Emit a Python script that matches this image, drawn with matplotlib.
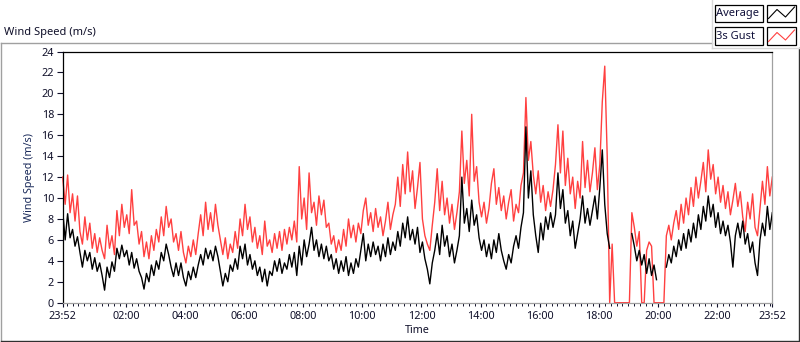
import numpy as np
import matplotlib
matplotlib.use("Agg")
import matplotlib.pyplot as plt
from matplotlib.lines import Line2D
from matplotlib.patches import Rectangle

nan = np.nan
sample_minutes = 5

average = [
    8.8, 6.0, 8.5, 6.2, 7.0, 5.4, 6.3, 4.8, 3.4, 5.0,
    4.0, 4.8, 3.2, 4.3, 3.0, 3.8, 2.6, 1.2, 3.4, 2.4,
    3.9, 3.0, 5.2, 4.2, 5.5, 4.4, 5.0, 3.6, 4.8, 3.3,
    4.2, 3.0, 2.4, 1.3, 2.8, 2.0, 3.6, 2.6, 4.0, 3.2,
    4.8, 4.0, 5.6, 4.6, 3.4, 2.5, 3.8, 2.6, 3.8, 2.4,
    1.6, 3.0, 2.2, 3.4, 2.4, 3.6, 4.6, 3.6, 5.2, 4.2,
    5.0, 4.0, 5.4, 4.4, 3.0, 1.6, 2.8, 2.0, 3.6, 3.0,
    4.2, 3.2, 5.4, 4.2, 5.6, 3.6, 4.6, 3.2, 4.0, 2.6,
    3.4, 2.0, 3.2, 1.6, 3.0, 2.6, 4.0, 3.0, 4.2, 2.8,
    3.8, 3.2, 4.6, 3.4, 4.8, 2.6, 5.4, 3.6, 6.0, 4.4,
    5.6, 7.2, 5.0, 6.0, 4.4, 5.6, 4.2, 5.4, 4.0, 4.6,
    3.2, 4.2, 2.8, 4.0, 3.0, 4.4, 2.6, 3.8, 2.8, 4.2,
    3.4, 5.0, 6.6, 4.0, 5.6, 4.4, 5.8, 4.6, 5.4, 4.0,
    5.6, 4.4, 6.2, 4.6, 5.8, 5.0, 6.8, 5.4, 7.6, 6.2,
    8.2, 6.0, 7.0, 5.6, 7.2, 4.8, 5.8, 4.2, 3.2, 1.8,
    3.8, 5.0, 6.6, 4.6, 7.4, 5.4, 6.4, 4.4, 5.6, 3.8,
    5.0, 6.4, 12.0, 7.6, 9.0, 6.8, 9.8, 7.4, 8.4, 6.2,
    5.0, 6.0, 4.4, 5.6, 4.2, 6.0, 4.8, 6.6, 5.0, 4.0,
    3.2, 4.6, 3.8, 5.4, 6.4, 5.2, 7.2, 8.6, 16.8, 10.0,
    12.6, 8.4, 6.4, 4.8, 7.6, 6.0, 8.2, 7.0, 8.6, 7.2,
    8.4, 12.4, 9.0, 10.8, 7.6, 8.8, 6.4, 7.8, 5.2, 6.6,
    8.0, 10.2, 7.6, 9.0, 7.4, 8.8, 10.2, 8.0, 11.0, 14.6,
    9.4, 6.6, 5.2, nan, nan, nan, nan, nan, nan, nan,
    nan, 6.6, 5.4, 4.0, 5.0, 3.6, 4.6, 2.8, 4.2, 2.6,
    3.6, 2.2, nan, nan, nan, 3.4, 4.6, 3.8, 5.4, 4.4,
    6.0, 5.0, 6.6, 5.2, 7.0, 5.8, 7.6, 6.2, 8.4, 7.0,
    9.2, 7.8, 10.2, 8.2, 9.4, 7.2, 8.6, 6.6, 7.8, 6.4,
    7.4, 5.8, 3.4, 6.4, 7.6, 6.2, 7.8, 5.6, 6.6, 4.8,
    5.8, 3.8, 2.6, 6.0, 7.6, 6.4, 9.2, 7.0, 8.6,
]

gust = [
    12.0, 9.4, 12.2, 8.6, 10.4, 7.8, 10.2, 6.8, 5.6, 8.2,
    6.0, 7.6, 5.2, 6.6, 4.8, 6.2, 5.0, 4.2, 7.4, 5.2,
    6.4, 4.6, 8.8, 6.4, 9.4, 7.2, 8.4, 6.6, 10.8, 7.4,
    7.8, 5.6, 6.8, 4.4, 5.8, 4.2, 6.4, 5.0, 7.0, 5.8,
    8.2, 6.4, 9.2, 7.2, 8.0, 5.8, 6.6, 5.0, 6.8, 4.8,
    3.8, 5.4, 4.4, 6.0, 4.6, 6.6, 8.4, 6.4, 9.6, 7.0,
    8.6, 6.8, 9.4, 7.4, 6.0, 4.6, 6.2, 4.2, 5.6, 4.8,
    6.8, 5.2, 8.0, 6.4, 9.4, 7.0, 8.2, 5.8, 7.2, 5.2,
    6.4, 4.6, 7.8, 5.4, 6.0, 4.8, 6.6, 5.2, 6.8, 5.0,
    7.0, 5.6, 7.2, 6.0, 7.8, 5.8, 13.0, 8.0, 10.0, 7.0,
    12.4, 8.6, 9.6, 7.4, 10.2, 8.4, 9.8, 7.2, 7.6, 5.6,
    6.4, 4.8, 6.0, 5.0, 7.0, 5.4, 8.0, 6.2, 7.4, 5.8,
    7.6, 6.6, 8.8, 10.0, 7.4, 8.6, 6.8, 9.0, 7.2, 8.2,
    6.4, 7.8, 9.6, 7.0, 8.4, 9.4, 12.0, 9.2, 13.2, 10.4,
    14.4, 10.6, 12.6, 9.0, 11.0, 13.4, 8.0, 6.4, 5.6, 5.0,
    7.4, 9.6, 12.8, 8.8, 11.6, 8.4, 10.0, 7.6, 9.4, 7.0,
    8.6, 10.6, 16.4, 11.4, 13.6, 10.2, 18.0, 11.6, 13.0, 9.6,
    8.2, 9.6, 7.6, 9.0, 11.4, 12.8, 9.4, 11.0, 8.8, 10.2,
    8.0, 9.6, 10.8, 7.8, 9.4, 8.6, 11.2, 12.4, 19.6, 13.6,
    15.4, 12.2, 10.4, 12.6, 9.6, 11.2, 8.8, 10.6, 9.2, 10.8,
    13.2, 17.0, 12.4, 16.4, 11.2, 13.8, 10.4, 12.0, 9.0, 11.6,
    10.0, 15.4, 11.0, 13.6, 10.6, 12.4, 14.8, 10.8, 13.2, 19.2,
    22.6, 14.0, 0.0, 5.6, 0.0, 0.0, 0.0, 0.0, 0.0, 0.0,
    0.0, 8.6, 7.2, 5.4, 6.8, 0.0, 0.0, 5.0, 5.8, 5.4,
    0.0, 0.0, 0.0, 0.0, 0.0, 6.4, 7.4, 6.0, 7.6, 8.8,
    7.0, 9.4, 7.6, 10.0, 8.4, 11.0, 9.2, 12.0, 10.0, 11.6,
    13.4, 10.6, 14.6, 11.8, 13.2, 10.4, 12.0, 9.6, 11.2, 9.0,
    10.6, 8.4, 9.8, 11.4, 9.2, 10.6, 8.2, 6.8, 9.6, 8.0,
    10.4, 7.2, 6.4, 9.0, 11.6, 9.4, 13.0, 10.2, 12.0,
]

x_tick_labels = ["23:52", "02:00", "04:00", "06:00", "08:00", "10:00", "12:00",
                 "14:00", "16:00", "18:00", "20:00", "22:00", "23:52"]
y_ticks = [0, 2, 4, 6, 8, 10, 12, 14, 16, 18, 20, 22, 24]
series_names = ["Average", "3s Gust"]
series_colors = ["#000000", "#ff4040"]

# ---------------------------------------------------------------
plt.rcParams['font.family'] = ['Noto Sans', 'DejaVu Sans']
W, H = 800, 342
fig = plt.figure(figsize=(W / 100, H / 100), dpi=100)

def fx(x):
    return x / W

def fy(y):
    return 1 - y / H

times = np.arange(len(average)) * sample_minutes

def to_minutes(lbl, start="23:52"):
    h, m = map(int, lbl.split(":"))
    sh, sm = map(int, start.split(":"))
    d = (h * 60 + m) - (sh * 60 + sm)
    return d % 1440

x_tick_pos = [to_minutes(l) for l in x_tick_labels]
x_tick_pos[-1] = 1440
minor_pos = np.arange(to_minutes("00:00"), 1440, 12)

ax_l, ax_r, ax_t, ax_b = 62.7, 772.3, 51.5, 302.7
ax = fig.add_axes([fx(ax_l), fy(ax_b), fx(ax_r) - fx(ax_l), fy(ax_t) - fy(ax_b)])

ax.plot(times, gust, color=series_colors[1], lw=1.0, clip_on=False, zorder=2)
ax.plot(times, average, color=series_colors[0], lw=1.0, zorder=3)

ax.set_xlim(0, 1440)
ax.set_ylim(0, 24)
ax.set_yticks(y_ticks)
ax.set_xticks(x_tick_pos)
ax.set_xticklabels(x_tick_labels)
ax.set_xticks(minor_pos, minor=True)
txtc = "#10102a"
ax.tick_params(axis='y', direction='out', length=4.2, width=0.8, pad=2,
               labelsize=7.8, colors=txtc)
ax.tick_params(axis='x', which='major', direction='out', length=3.0, width=0.8,
               pad=3, labelsize=7.8, colors=txtc)
ax.tick_params(axis='x', which='minor', direction='out', length=2.2, width=0.7,
               colors=txtc)
for s in ['top', 'left']:
    ax.spines[s].set_color('black')
    ax.spines[s].set_linewidth(0.9)
for s in ['bottom', 'right']:
    ax.spines[s].set_color('#a0a0a0')
    ax.spines[s].set_linewidth(0.9)

ax.set_ylabel("Wind Speed (m/s)", fontsize=7.8, color="#1a2a5a", labelpad=5)
ax.set_xlabel("Time", fontsize=7.8, color=txtc, labelpad=2)

# top-left caption
fig.text(fx(4), fy(32.5), "Wind Speed (m/s)", fontsize=8, color=txtc,
         ha='left', va='center')

# outer frame (sunken look)
def fline(xs, ys, color, lw=1.0):
    fig.add_artist(Line2D([fx(v) for v in xs], [fy(v) for v in ys],
                          color=color, lw=lw, transform=fig.transFigure))

fline([0.5, 711.5], [42.7, 42.7], '#a0a0a0')
fline([0.5, 0.5], [42.7, 341], '#a0a0a0')
fline([0.5, 798.5], [341, 341], '#303030')
fline([798.5, 798.5], [48.3, 341], '#303030')
# legend panel border
fline([711.5, 711.5], [0, 48.3], '#d8d8d8')
fline([711.5, 798.5], [48.3, 48.3], '#d8d8d8')

# legend
rows_y = [4.5, 27.5]
for name, col, y0 in zip(series_names, series_colors, rows_y):
    fig.add_artist(Rectangle((fx(715), fy(y0 + 17)), fx(762.7) - fx(715),
                             fy(y0) - fy(y0 + 17), transform=fig.transFigure,
                             facecolor='white', edgecolor='black', lw=0.9))
    fig.text(fx(716.5), fy(y0 + 8.8), name, fontsize=8, color="#10103a",
             ha='left', va='center')
    fig.add_artist(Rectangle((fx(766.7), fy(y0 + 17)), fx(796) - fx(766.7),
                             fy(y0) - fy(y0 + 17), transform=fig.transFigure,
                             facecolor='white', edgecolor='black', lw=0.9))
    gx = [768.5, 777.0, 785.5, 794.5]
    gy = [y0 + 14.0, y0 + 5.0, y0 + 12.5, y0 + 2.5]
    fline(gx, gy, col, lw=0.8)

fig.savefig("out.png", dpi=100)
